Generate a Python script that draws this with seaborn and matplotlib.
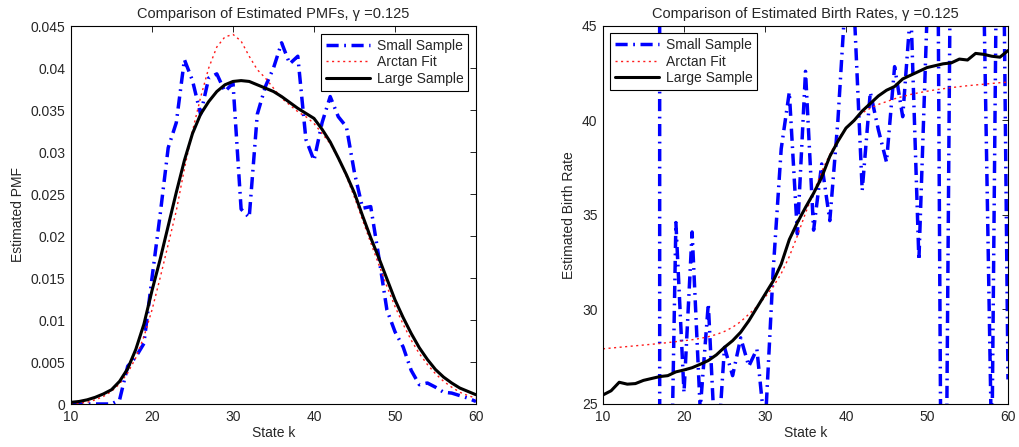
"""Two-panel comparison of estimated PMFs and birth rates."""

import numpy as np
import matplotlib
matplotlib.use("Agg")
import matplotlib.pyplot as plt
import seaborn as sns

# ------------------------------------------------------------------ data
states = list(range(10, 61))

pmf_small = [
    0, 0, 0, 0, 0, 0, 0.0005, 0.0045, 0.0056, 0.0072,
    0.0150, 0.0225, 0.0305, 0.0335, 0.0410, 0.0385, 0.0345, 0.0388, 0.0393, 0.0372,
    0.0382, 0.0232, 0.0222, 0.0345, 0.0378, 0.0400, 0.0430, 0.0405, 0.0414, 0.0315,
    0.0290, 0.0335, 0.0366, 0.0342, 0.0330, 0.0275, 0.0233, 0.0235, 0.0175, 0.0112,
    0.0086, 0.0068, 0.0040, 0.0023, 0.0025, 0.0020, 0.0014, 0.0013, 0.0010, 0.0007,
    0.0003,
]
pmf_arctan = [
    0.0000, 0.0001, 0.0002, 0.0005, 0.0009, 0.0015, 0.0024, 0.0037, 0.0055, 0.0080,
    0.0112, 0.0150, 0.0190, 0.0230, 0.0280, 0.0325, 0.0365, 0.0400, 0.0425, 0.0437,
    0.0440, 0.0432, 0.0414, 0.0398, 0.0388, 0.0376, 0.0364, 0.0356, 0.0348, 0.0342,
    0.0334, 0.0322, 0.0310, 0.0292, 0.0271, 0.0246, 0.0219, 0.0192, 0.0166, 0.0140,
    0.0116, 0.0095, 0.0076, 0.0060, 0.0047, 0.0036, 0.0027, 0.0020, 0.0014, 0.0010,
    0.0007,
]
pmf_large = [
    0.0002, 0.0003, 0.0005, 0.0008, 0.0012, 0.0017, 0.0027, 0.0042, 0.0065, 0.0095,
    0.0135, 0.0172, 0.0212, 0.0252, 0.0290, 0.0322, 0.0345, 0.0360, 0.0372, 0.0380,
    0.0384, 0.0385, 0.0384, 0.0380, 0.0376, 0.0372, 0.0366, 0.0359, 0.0352, 0.0346,
    0.0340, 0.0327, 0.0312, 0.0293, 0.0273, 0.0251, 0.0224, 0.0198, 0.0174, 0.0149,
    0.0124, 0.0103, 0.0084, 0.0067, 0.0053, 0.0041, 0.0032, 0.0025, 0.0019, 0.0015,
    0.0011,
]

# small-sample birth rates: undefined where the sample PMF is empty,
# huge where it is nearly empty (most of those fall off the axes)
nan = np.nan
birth_small = [
    nan, nan, nan, nan, nan, nan, 5000, 20.0, 10.5, 34.6,
    25.6, 34.1, 24.7, 30.3, 21.5, 28.0, 26.5, 28.5, 27.0, 27.9,
    23.6, 32.0, 38.5, 41.5, 34.0, 42.6, 34.2, 37.7, 34.7, 40.0,
    47.0, 46.0, 36.3, 41.5, 39.5, 37.8, 42.85, 40.2, 46.0, 32.6,
    45.5, 75.0, 0, 55.0, 60.0, 60.0, 60.0, 47.0, 22.0, 68.0,
    26.3,
]
birth_arctan = [
    27.92, 27.96, 28.00, 28.04, 28.08, 28.12, 28.16, 28.20, 28.25, 28.30,
    28.35, 28.40, 28.47, 28.56, 28.68, 28.84, 29.06, 29.36, 29.75, 30.15,
    30.65, 31.20, 31.90, 32.80, 33.90, 35.10, 36.20, 37.30, 38.20, 39.00,
    39.60, 40.00, 40.40, 40.65, 40.85, 41.00, 41.15, 41.27, 41.38, 41.47,
    41.55, 41.62, 41.68, 41.74, 41.79, 41.84, 41.88, 41.92, 41.96, 42.00,
    42.03,
]
birth_large = [
    25.48, 25.70, 26.15, 26.05, 26.08, 26.25, 26.35, 26.45, 26.50, 26.70,
    26.80, 26.92, 27.10, 27.30, 27.60, 28.00, 28.35, 28.80, 29.40, 30.10,
    30.80, 31.50, 32.40, 33.70, 34.60, 35.40, 36.15, 37.00, 38.10, 38.90,
    39.60, 40.00, 40.50, 40.90, 41.30, 41.60, 41.80, 42.20, 42.40, 42.60,
    42.80, 42.90, 43.00, 43.05, 43.25, 43.20, 43.55, 43.50, 43.40, 43.35,
    43.70,
]

series_names = ["Small Sample", "Arctan Fit", "Large Sample"]

x_ticks = [10, 20, 30, 40, 50, 60]
pmf_ticks = [0, 0.005, 0.01, 0.015, 0.02, 0.025, 0.03, 0.035, 0.04, 0.045]
pmf_tick_labels = ["0", "0.005", "0.01", "0.015", "0.02", "0.025",
                   "0.03", "0.035", "0.04", "0.045"]
birth_ticks = [25, 30, 35, 40, 45]

# ------------------------------------------------------------------ styles
small_style = {"color": "#0000ff", "linewidth": 2.5,
               "linestyle": (0, (3.5, 1.6, 0.5, 1.6))}
arctan_style = {"color": "#ff1a1a", "linewidth": 1.0,
                "linestyle": (0, (1.5, 2.5))}
large_style = {"color": "black", "linewidth": 2.2, "linestyle": "-"}

sns.set_style("white")
plt.rcParams["font.family"] = ["Liberation Sans", "DejaVu Sans"]
plt.rcParams["font.size"] = 10

fig = plt.figure(figsize=(10.19, 4.47), dpi=100)
ax_l = fig.add_axes([71 / 1019, 43 / 447, 405 / 1019, 378 / 447])
ax_r = fig.add_axes([603 / 1019, 43 / 447, 405 / 1019, 378 / 447])


def draw_panel(ax, small, arctan, large):
    # plain ax.plot keeps NaN gaps (seaborn's lineplot would drop them)
    ax.plot(states, small, label=series_names[0], **small_style)
    sns.lineplot(x=states, y=arctan, ax=ax, label=series_names[1],
                 errorbar=None, **arctan_style)
    sns.lineplot(x=states, y=large, ax=ax, label=series_names[2],
                 errorbar=None, **large_style)
    ax.set_xlim(10, 60)
    ax.set_xticks(x_ticks)
    ax.set_xlabel("State k", fontsize=10, labelpad=2)
    ax.tick_params(axis="both", direction="in", top=True, right=True,
                   length=4, width=0.6, labelsize=10, pad=4, color="black")
    for sp in ax.spines.values():
        sp.set_color("black")
        sp.set_linewidth(0.8)


# ////////////////////////////// PMF //////////////////////////////
draw_panel(ax_l, pmf_small, pmf_arctan, pmf_large)
ax_l.set_ylim(0, 0.045)
ax_l.set_yticks(pmf_ticks)
ax_l.set_yticklabels(pmf_tick_labels)
ax_l.set_ylabel("Estimated PMF", fontsize=10, labelpad=4)
ax_l.set_title("Comparison of Estimated PMFs, γ =0.125", fontsize=10.5, pad=6)
leg = ax_l.legend(loc="upper right", handlelength=3.2, handletextpad=0.45,
                  labelspacing=0.2, borderpad=0.35, borderaxespad=0.55,
                  fancybox=False, framealpha=1, fontsize=10)
leg.get_frame().set_edgecolor("black")
leg.get_frame().set_linewidth(0.8)

# ////////////////////////////// BIRTH RATES //////////////////////////////
draw_panel(ax_r, birth_small, birth_arctan, birth_large)
ax_r.set_ylim(25, 45)
ax_r.set_yticks(birth_ticks)
ax_r.set_ylabel("Estimated Birth Rate", fontsize=10, labelpad=4)
ax_r.set_title("Comparison of Estimated Birth Rates, γ =0.125",
               fontsize=10.5, pad=6)
leg = ax_r.legend(loc="upper left", handlelength=3.2, handletextpad=0.45,
                  labelspacing=0.2, borderpad=0.35, borderaxespad=0.5,
                  fancybox=False, framealpha=1, fontsize=10)
leg.get_frame().set_edgecolor("black")
leg.get_frame().set_linewidth(0.8)

plt.savefig("out.png", dpi=100)
